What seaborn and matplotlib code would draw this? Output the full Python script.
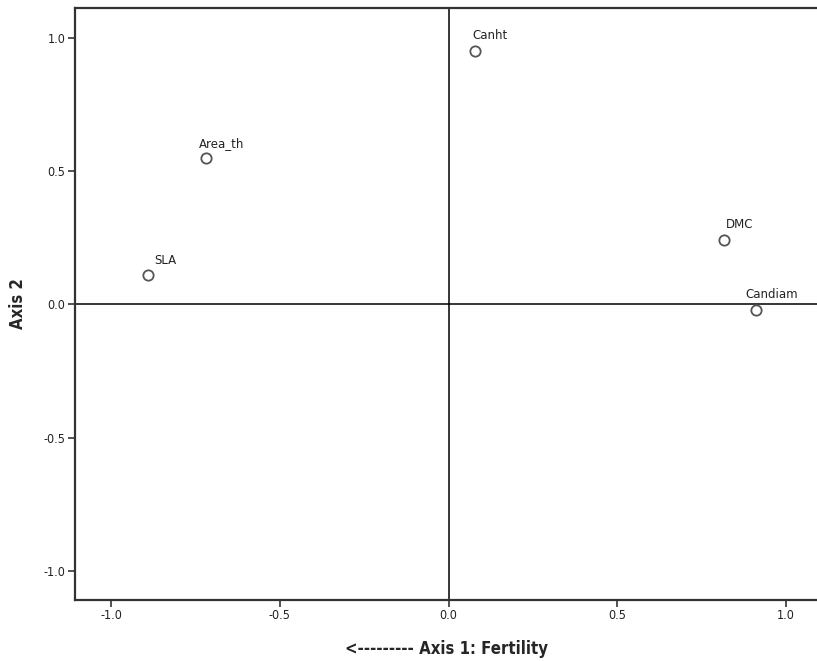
import numpy as np
import pandas as pd
import matplotlib
matplotlib.use("Agg")
import matplotlib.pyplot as plt
import seaborn as sns

# Loadings
traits = ["Canht", "Area_th", "SLA", "DMC", "Candiam"]
axis1 = [0.078, -0.719, -0.890, 0.815, 0.911]
axis2 = [0.952, 0.551, 0.110, 0.241, -0.020]

df = pd.DataFrame({"trait": traits, "axis1": axis1, "axis2": axis2})

sns.set_style("white")
plt.rcParams["font.family"] = ["DejaVu Sans"]

fig = plt.figure(figsize=(8.17, 6.61), dpi=100)
ax = fig.add_axes([0.0918, 0.0929, 0.9082, 0.895])

ax.axvline(0, color="black", lw=1.1, zorder=1)
ax.axhline(0, color="black", lw=1.1, zorder=1)

sns.scatterplot(data=df, x="axis1", y="axis2", ax=ax, s=55,
                facecolor="white", edgecolor="#555555", linewidth=1.3, zorder=3)

# label offsets in pixels (dx, dy)
offsets = {"Canht": (-2, 9), "Area_th": (-7, 8), "SLA": (6, 8),
           "DMC": (2, 9), "Candiam": (-11, 9)}
for t, x, y in zip(traits, axis1, axis2):
    dx, dy = offsets[t]
    ax.annotate(t, (x, y), xytext=(dx * 0.72, dy * 0.72), textcoords="offset points",
                ha="left", va="bottom", fontsize=8.5, color="#222222")

ax.set_xlim(-1.107, 1.092)
ax.set_ylim(-1.109, 1.114)
ax.set_xticks([-1.0, -0.5, 0.0, 0.5, 1.0])
ax.set_yticks([-1.0, -0.5, 0.0, 0.5, 1.0])
ax.set_xticklabels(["-1.0", "-0.5", "0.0", "0.5", "1.0"], fontstretch="condensed")
ax.set_yticklabels(["-1.0", "-0.5", "0.0", "0.5", "1.0"], fontstretch="condensed")
ax.tick_params(axis="both", direction="out", length=5, width=1.2, color="#333333",
               labelsize=9, labelcolor="#222222", pad=2, bottom=True, left=True)

for side in ["top", "left", "bottom"]:
    ax.spines[side].set_color("#333333")
    ax.spines[side].set_linewidth(1.6)
ax.spines["right"].set_visible(False)

ax.set_xlabel("<--------- Axis 1: Fertility", fontsize=12, fontweight="bold",
              fontstretch="condensed", labelpad=13)
ax.set_ylabel("Axis 2", fontsize=12, fontweight="bold", fontstretch="condensed", labelpad=12)

fig.savefig("out.png", dpi=100)
